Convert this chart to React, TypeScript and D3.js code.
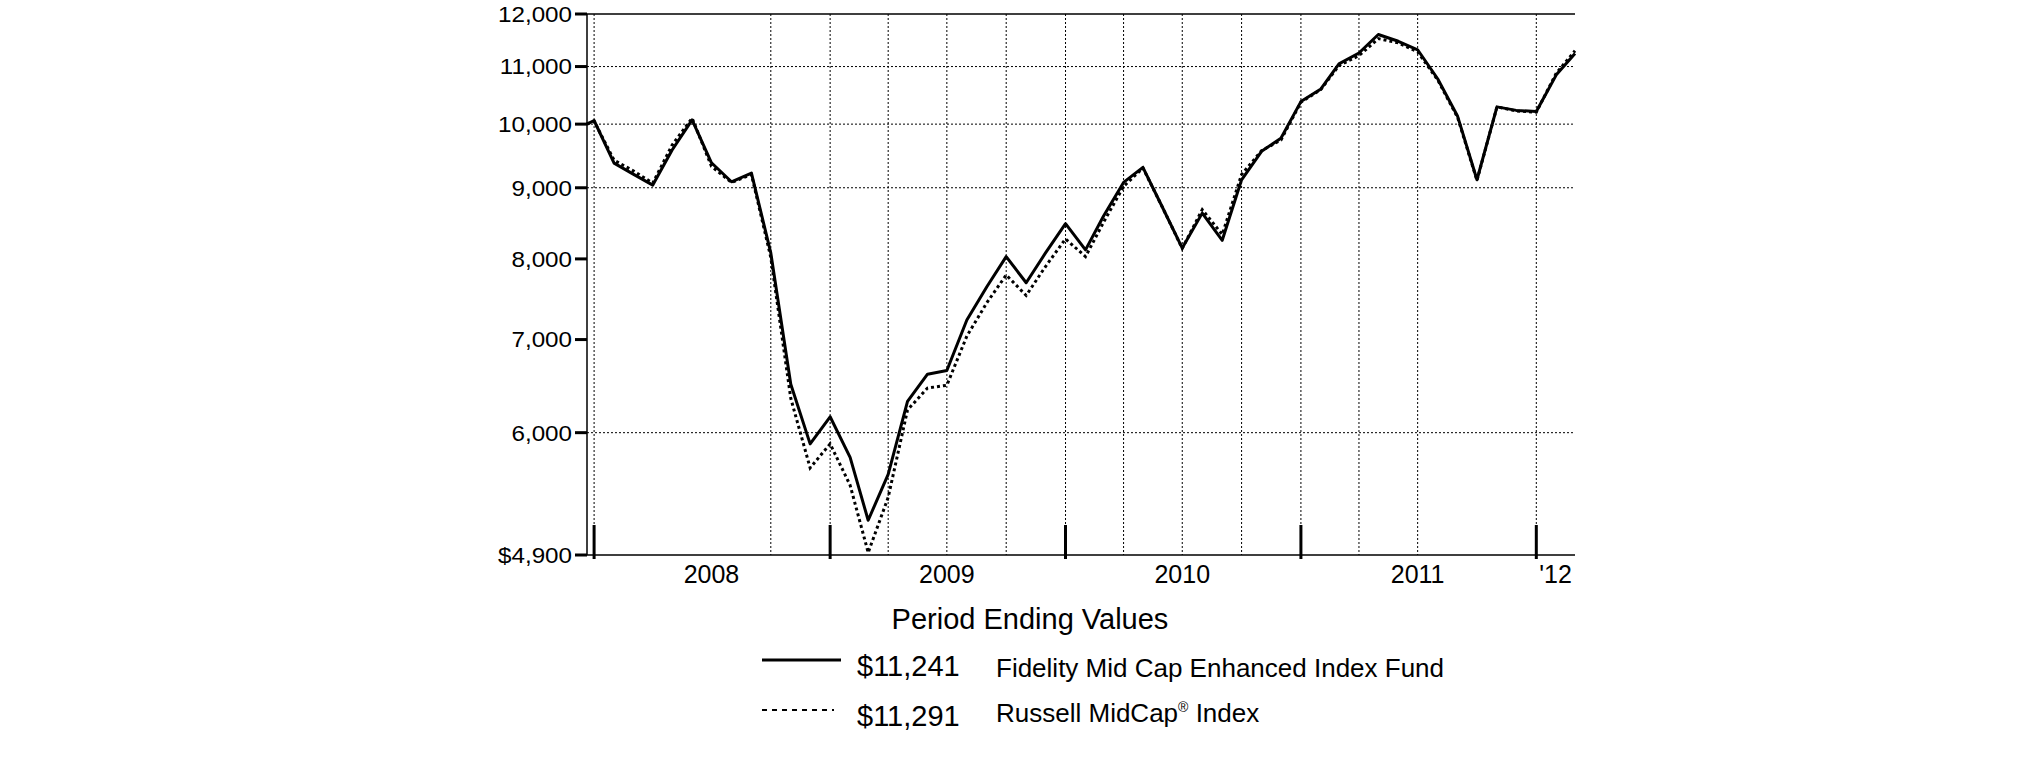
import { useEffect, useRef } from "react";
import * as d3 from "d3";

// period ends: inception 12/20/2007, then month ends to 2/29/2012
const periods = [
  "2007-12-20", "2007-12-31",
  "2008-01-31", "2008-02-29", "2008-03-31", "2008-04-30", "2008-05-31", "2008-06-30",
  "2008-07-31", "2008-08-31", "2008-09-30", "2008-10-31", "2008-11-30", "2008-12-31",
  "2009-01-31", "2009-02-28", "2009-03-31", "2009-04-30", "2009-05-31", "2009-06-30",
  "2009-07-31", "2009-08-31", "2009-09-30", "2009-10-31", "2009-11-30", "2009-12-31",
  "2010-01-31", "2010-02-28", "2010-03-31", "2010-04-30", "2010-05-31", "2010-06-30",
  "2010-07-31", "2010-08-31", "2010-09-30", "2010-10-31", "2010-11-30", "2010-12-31",
  "2011-01-31", "2011-02-28", "2011-03-31", "2011-04-30", "2011-05-31", "2011-06-30",
  "2011-07-31", "2011-08-31", "2011-09-30", "2011-10-31", "2011-11-30", "2011-12-31",
  "2012-01-31", "2012-02-29",
];

const fundValues = [
  10000, 10060,
  9375, 9210, 9040, 9580, 10070, 9380, 9090, 9220, 8080, 6500, 5890, 6160,
  5760, 5190, 5600, 6320, 6610, 6650, 7230, 7640, 8030, 7690, 8080, 8480,
  8120, 8590, 9080, 9310, 8700, 8145, 8630, 8250, 9120, 9560, 9770, 10380,
  10600, 11050, 11250, 11600, 11470, 11310, 10780, 10130, 9120, 10290, 10230, 10210,
  10850, 11241,
];

const indexValues = [
  10000, 10050,
  9420, 9260, 9070, 9660, 10100, 9325, 9080, 9200, 8020, 6350, 5660, 5890,
  5500, 4920, 5390, 6230, 6460, 6490, 7040, 7440, 7790, 7530, 7900, 8270,
  8030, 8500, 9020, 9300, 8700, 8140, 8680, 8330, 9200, 9570, 9740, 10370,
  10590, 11020, 11200, 11520, 11440, 11270, 10760, 10110, 9110, 10290, 10220, 10200,
  10880, 11291,
];

const yTicks = [4900, 6000, 7000, 8000, 9000, 10000, 11000, 12000];
const yGridValues = [6000, 9000, 10000, 11000];
const yearEnds = ["2007-12-31", "2008-12-31", "2009-12-31", "2010-12-31", "2011-12-31"];
const gridDates = [
  "2007-12-31", "2008-09-30", "2008-12-31", "2009-03-31", "2009-06-30", "2009-09-30",
  "2009-12-31", "2010-03-31", "2010-06-30", "2010-09-30", "2010-12-31", "2011-03-31",
  "2011-06-30", "2011-12-31",
];
const yearLabels = ["2008", "2009", "2010", "2011", "'12"];
const yearLabelDates = ["2008-06-30", "2009-06-30", "2010-06-30", "2011-06-30", "2012-01-30"];

const legendItems = [
  { value: "$11,241", name: "Fidelity Mid Cap Enhanced Index Fund", dashed: false },
  { value: "$11,291", name: "Russell MidCap", dashed: true },
];

const FONT = "'Liberation Sans', Arial, Helvetica, sans-serif";

export default function App() {
  const svgRef = useRef<SVGSVGElement>(null);

  useEffect(() => {
    if (!svgRef.current) return;
    const parse = d3.timeParse("%Y-%m-%d");
    const width = 2025;
    const height = 761;
    const left = 587;
    const right = 1575;
    const top = 14;
    const bottom = 555;

    const svg = d3.select(svgRef.current);
    svg.selectAll("*").remove();
    svg.attr("width", width).attr("height", height);

    const dates = periods.map((p) => parse(p) as Date);

    const x = d3
      .scaleTime()
      .domain([dates[0], dates[dates.length - 1]])
      .range([left, right]);

    const y = d3.scaleLog().domain([4900, 12000]).range([bottom, top]);

    svg.append("rect").attr("width", width).attr("height", height).attr("fill", "#fff");

    // grid
    svg
      .append("g")
      .selectAll("line")
      .data(yGridValues)
      .join("line")
      .attr("x1", left)
      .attr("x2", right)
      .attr("y1", (d) => y(d))
      .attr("y2", (d) => y(d))
      .attr("stroke", "#000")
      .attr("stroke-width", 1)
      .attr("stroke-dasharray", "2,2");

    svg
      .append("g")
      .selectAll("line")
      .data(gridDates.map((d) => parse(d) as Date))
      .join("line")
      .attr("x1", (d) => x(d))
      .attr("x2", (d) => x(d))
      .attr("y1", top)
      .attr("y2", bottom)
      .attr("stroke", "#000")
      .attr("stroke-width", 1)
      .attr("stroke-dasharray", "2,2");

    // frame: left axis, top and bottom lines
    svg
      .append("path")
      .attr("d", `M${right},${top}H${left}V${bottom}H${right}`)
      .attr("fill", "none")
      .attr("stroke", "#000")
      .attr("stroke-width", 1.5);

    // y ticks + labels
    const yAxis = svg.append("g");
    yAxis
      .selectAll("line")
      .data(yTicks)
      .join("line")
      .attr("x1", left - 12)
      .attr("x2", left)
      .attr("y1", (d) => y(d))
      .attr("y2", (d) => y(d))
      .attr("stroke", "#000")
      .attr("stroke-width", 3);

    const fmt = d3.format(",");
    yAxis
      .selectAll("g.lbl")
      .data(yTicks)
      .join("g")
      .attr("class", "lbl")
      .attr("transform", (d) => `translate(${left - 15},${y(d)}) scale(1.1,1)`)
      .append("text")
      .attr("text-anchor", "end")
      .attr("dy", "0.36em")
      .attr("font-family", FONT)
      .attr("font-size", 22)
      .text((d, i) => (i === 0 ? "$" : "") + fmt(d));

    // x major ticks at year ends
    svg
      .append("g")
      .selectAll("line")
      .data(yearEnds.map((d) => parse(d) as Date))
      .join("line")
      .attr("x1", (d) => x(d))
      .attr("x2", (d) => x(d))
      .attr("y1", bottom - 30)
      .attr("y2", bottom + 4)
      .attr("stroke", "#000")
      .attr("stroke-width", 3);

    svg
      .append("g")
      .selectAll("text")
      .data(yearLabels)
      .join("text")
      .attr("x", (d, i) => x(parse(yearLabelDates[i]) as Date))
      .attr("y", bottom + 28)
      .attr("text-anchor", "middle")
      .attr("font-family", FONT)
      .attr("font-size", 25)
      .text((d) => d);

    // series
    const line = d3
      .line<number>()
      .x((d, i) => x(dates[i]))
      .y((d) => y(d));

    svg
      .append("path")
      .datum(indexValues)
      .attr("fill", "none")
      .attr("stroke", "#000")
      .attr("stroke-width", 3)
      .attr("stroke-dasharray", "3,3")
      .attr("d", line);

    svg
      .append("path")
      .datum(fundValues)
      .attr("fill", "none")
      .attr("stroke", "#000")
      .attr("stroke-width", 3)
      .attr("stroke-linejoin", "round")
      .attr("d", line);

    // legend
    const legend = svg.append("g");
    legend
      .append("text")
      .attr("x", 1030)
      .attr("y", 629)
      .attr("text-anchor", "middle")
      .attr("font-family", FONT)
      .attr("font-size", 29)
      .text("Period Ending Values");

    legendItems.forEach((item, i) => {
      const ly = 660 + i * 50;
      legend
        .append("line")
        .attr("x1", 762)
        .attr("x2", item.dashed ? 834 : 841)
        .attr("y1", ly)
        .attr("y2", ly)
        .attr("stroke", "#000")
        .attr("stroke-width", item.dashed ? 2 : 3)
        .attr("stroke-dasharray", item.dashed ? "5,5" : null);
      legend
        .append("text")
        .attr("x", 857)
        .attr("y", ly + 16)
        .attr("font-family", FONT)
        .attr("font-size", 29)
        .text(item.value);
      const t = legend
        .append("text")
        .attr("x", 996)
        .attr("y", ly + 17 - i * 5)
        .attr("font-family", FONT)
        .attr("font-size", 26)
        .text(item.name);
      if (item.dashed) {
        t.append("tspan").attr("font-size", 14).attr("dy", -10).text("®");
        t.append("tspan").attr("dy", 10).text(" Index");
      }
    });
  }, []);

  return (
    <svg
      ref={svgRef}
      style={{ position: "absolute", left: 0, top: 0, display: "block" }}
    />
  );
}
